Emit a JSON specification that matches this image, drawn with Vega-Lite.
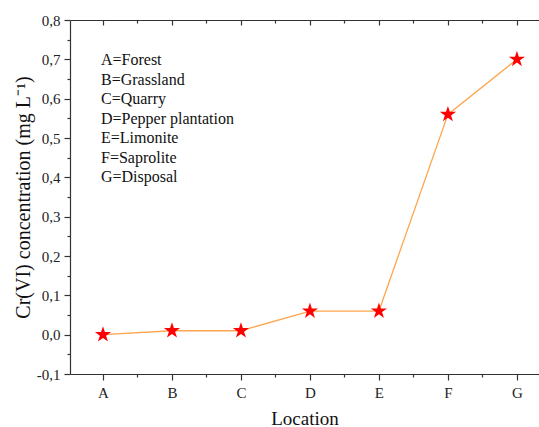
{
  "$schema": "https://vega.github.io/schema/vega-lite/v6.json",
  "width": 469,
  "height": 354,
  "autosize": "none",
  "padding": {"left": 70, "top": 20, "right": 0, "bottom": 53},
  "background": "white",
  "datasets": {
    "main": [
      {"loc": "A", "idx": 0, "value": 0.0},
      {"loc": "B", "idx": 1, "value": 0.01},
      {"loc": "C", "idx": 2, "value": 0.01},
      {"loc": "D", "idx": 3, "value": 0.06},
      {"loc": "E", "idx": 4, "value": 0.06},
      {"loc": "F", "idx": 5, "value": 0.56},
      {"loc": "G", "idx": 6, "value": 0.70}
    ],
    "legend": [
      {"label": "A=Forest"},
      {"label": "B=Grassland"},
      {"label": "C=Quarry"},
      {"label": "D=Pepper plantation"},
      {"label": "E=Limonite"},
      {"label": "F=Saprolite"},
      {"label": "G=Disposal"}
    ]
  },
  "config": {
    "view": {"stroke": null},
    "axis": {
      "grid": false,
      "domainColor": "#333333",
      "tickColor": "#333333",
      "labelColor": "#222222",
      "titleColor": "#111111",
      "labelFont": "Liberation Serif",
      "titleFont": "Liberation Serif",
      "labelFontSize": 15,
      "titleFontSize": 19,
      "titleFontWeight": "normal",
      "domainWidth": 1.2,
      "tickWidth": 1.2
    }
  },
  "resolve": {
    "scale": {"y": "independent"},
    "axis": {"x": "independent", "y": "independent"}
  },
  "layer": [
    {
      "data": {"name": "main"},
      "mark": {"type": "line", "color": "#FFA54F", "strokeWidth": 1.3},
      "encoding": {
        "x": {
          "field": "idx", "type": "quantitative",
          "scale": {"domain": [-0.478, 6.32], "nice": false, "zero": false},
          "axis": {
            "orient": "bottom", "values": [0, 1, 2, 3, 4, 5, 6],
            "labelExpr": "substring('ABCDEFG', datum.value, datum.value + 1)",
            "tickSize": 6, "labelPadding": 5, "title": "Location", "titlePadding": 9
          }
        },
        "y": {
          "field": "value", "type": "quantitative",
          "scale": {"domain": [-0.1, 0.8], "nice": false, "zero": false},
          "axis": {
            "orient": "left",
            "values": [-0.1, 0, 0.1, 0.2, 0.3, 0.4, 0.5, 0.6, 0.7, 0.8],
            "labelExpr": "replace(replace(format(datum.value, '.1f'), '.', ','), '\u2212', '-')",
            "labelOverlap": false,
            "tickSize": 6, "labelPadding": 4,
            "title": "Cr(VI) concentration (mg L\u207b\u00b9)", "titleFontSize": 20, "titlePadding": 3
          }
        }
      }
    },
    {
      "data": {"name": "main"},
      "mark": {
        "type": "point",
        "shape": "M0,-1L0.2245,-0.309L0.951,-0.309L0.363,0.118L0.588,0.809L0,0.382L-0.588,0.809L-0.363,0.118L-0.951,-0.309L-0.2245,-0.309Z",
        "filled": true, "color": "#FF0000", "opacity": 1, "size": 290
      },
      "encoding": {
        "x": {
          "field": "idx", "type": "quantitative",
          "axis": {
            "orient": "bottom", "values": [0.5, 1.5, 2.5, 3.5, 4.5, 5.5],
            "labels": false, "domain": false, "tickSize": 3, "title": null
          }
        },
        "y": {
          "field": "value", "type": "quantitative",
          "scale": {"domain": [-0.1, 0.8], "nice": false, "zero": false},
          "axis": {
            "orient": "left",
            "values": [-0.05, 0.05, 0.15, 0.25, 0.35, 0.45, 0.55, 0.65, 0.75],
            "labels": false, "domain": false, "tickSize": 3, "title": null
          }
        }
      }
    },
    {
      "data": {"name": "main"},
      "mark": {"type": "point", "opacity": 0},
      "encoding": {
        "x": {
          "field": "idx", "type": "quantitative",
          "axis": {
            "orient": "top", "values": [0, 1, 2, 3, 4, 5, 6],
            "labels": false, "domain": true, "tickSize": -5, "title": null
          }
        }
      }
    },
    {
      "data": {"name": "main"},
      "mark": {"type": "point", "opacity": 0},
      "encoding": {
        "x": {
          "field": "idx", "type": "quantitative",
          "axis": {
            "orient": "top", "values": [0.5, 1.5, 2.5, 3.5, 4.5, 5.5],
            "labels": false, "domain": false, "tickSize": -3, "title": null
          }
        }
      }
    },
    {
      "data": {"name": "legend"},
      "mark": {"type": "text", "align": "left", "baseline": "middle", "font": "Liberation Serif", "fontSize": 16, "color": "#111111", "dx": -2},
      "encoding": {
        "x": {"datum": 0, "type": "quantitative", "axis": null},
        "y": {"field": "label", "type": "nominal", "sort": null, "scale": {"type": "point", "range": [40, 157], "padding": 0}, "axis": null},
        "text": {"field": "label"}
      }
    }
  ]
}
